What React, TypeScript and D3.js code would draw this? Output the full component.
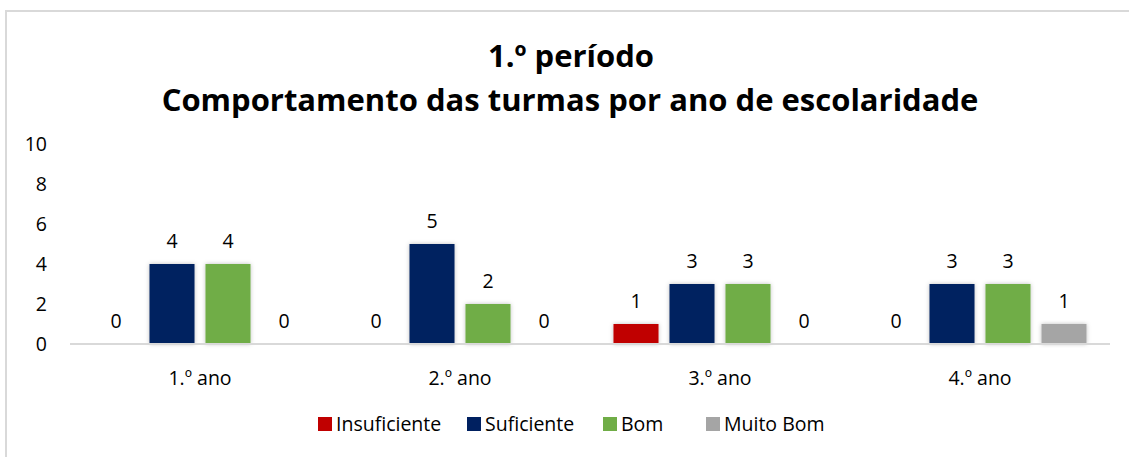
import React from 'react';
import * as d3 from 'd3';

const categories = ['1.º ano', '2.º ano', '3.º ano', '4.º ano'];
const seriesNames = ['Insuficiente', 'Suficiente', 'Bom', 'Muito Bom'];
const seriesColors = ['#C00000', '#002060', '#70AD47', '#A5A5A5'];
const insuficiente = [0, 0, 1, 0];
const suficiente = [4, 5, 3, 3];
const bom = [4, 2, 3, 3];
const muitoBom = [0, 0, 0, 1];
const yTicks = [0, 2, 4, 6, 8, 10];
const titleLines = ['1.º período', 'Comportamento das turmas por ano de escolaridade'];

const W = 1129;
const H = 457;
const font = '"Open Sans", Lato, sans-serif';
const labelSize = 19.5;

export default function App() {
  const values = [insuficiente, suficiente, bom, muitoBom];

  const x = d3.scaleBand<string>().domain(categories).range([70, 1110]).padding(0);
  const inner = d3
    .scaleBand<string>()
    .domain(seriesNames)
    .range([0, 224])
    .paddingInner(0.196)
    .paddingOuter(0.098);
  const y = d3.scaleLinear().domain([0, 10]).range([344, 144]);

  // legend item positions
  const legendX = [318, 467, 603, 706];

  return (
    <svg
      width={W}
      height={H}
      style={{ position: 'absolute', left: 0, top: 0, background: '#fff' }}
      fontFamily={font}
    >
      <defs>
        <filter id="shadow" x="-20%" y="-20%" width="140%" height="140%">
          <feDropShadow dx="0" dy="0" stdDeviation="2" floodColor="#000" floodOpacity="0.25" />
        </filter>
      </defs>
      <rect x={0} y={0} width={W} height={H} fill="#fff" />
      <rect x={6} y={11} width={W + 20} height={H + 20} fill="none" stroke="#d9d9d9" strokeWidth={2} />

      <text x={571} y={67} textAnchor="middle" fontSize={31} fontWeight="bold" fill="#000">
        {titleLines[0]}
      </text>
      <text x={570} y={111} textAnchor="middle" fontSize={31} fontWeight="bold" fill="#000">
        {titleLines[1]}
      </text>

      {yTicks.map((t) => (
        <text key={t} x={47} y={y(t)} dy="0.35em" textAnchor="end" fontSize={labelSize} fill="#000">
          {t}
        </text>
      ))}

      {categories.map((c, ci) => {
        const cx = (x(c) as number) + x.bandwidth() / 2 - 112;
        return (
          <g key={c}>
            {seriesNames.map((s, si) => {
              const v = values[si][ci];
              const bx = cx + (inner(s) as number);
              return (
                <g key={s}>
                  {v > 0 && (
                    <rect
                      x={bx}
                      y={y(v)}
                      width={inner.bandwidth()}
                      height={y(0) - y(v)}
                      fill={seriesColors[si]}
                      filter="url(#shadow)"
                    />
                  )}
                  <text
                    x={bx + inner.bandwidth() / 2}
                    y={y(v) - 16}
                    textAnchor="middle"
                    fontSize={labelSize}
                    fill="#000"
                  >
                    {v}
                  </text>
                </g>
              );
            })}
            <text
              x={(x(c) as number) + x.bandwidth() / 2}
              y={378}
              dy="0.35em"
              textAnchor="middle"
              fontSize={labelSize}
              fill="#000"
            >
              {c}
            </text>
          </g>
        );
      })}

      <line x1={70} x2={1110} y1={y(0)} y2={y(0)} stroke="#d9d9d9" strokeWidth={2} />

      {seriesNames.map((s, si) => (
        <g key={s} transform={`translate(${legendX[si]},424)`}>
          <rect x={0} y={-7} width={14} height={14} fill={seriesColors[si]} />
          <text x={18} y={0} dy="0.35em" fontSize={labelSize} fill="#000">
            {s}
          </text>
        </g>
      ))}
    </svg>
  );
}
